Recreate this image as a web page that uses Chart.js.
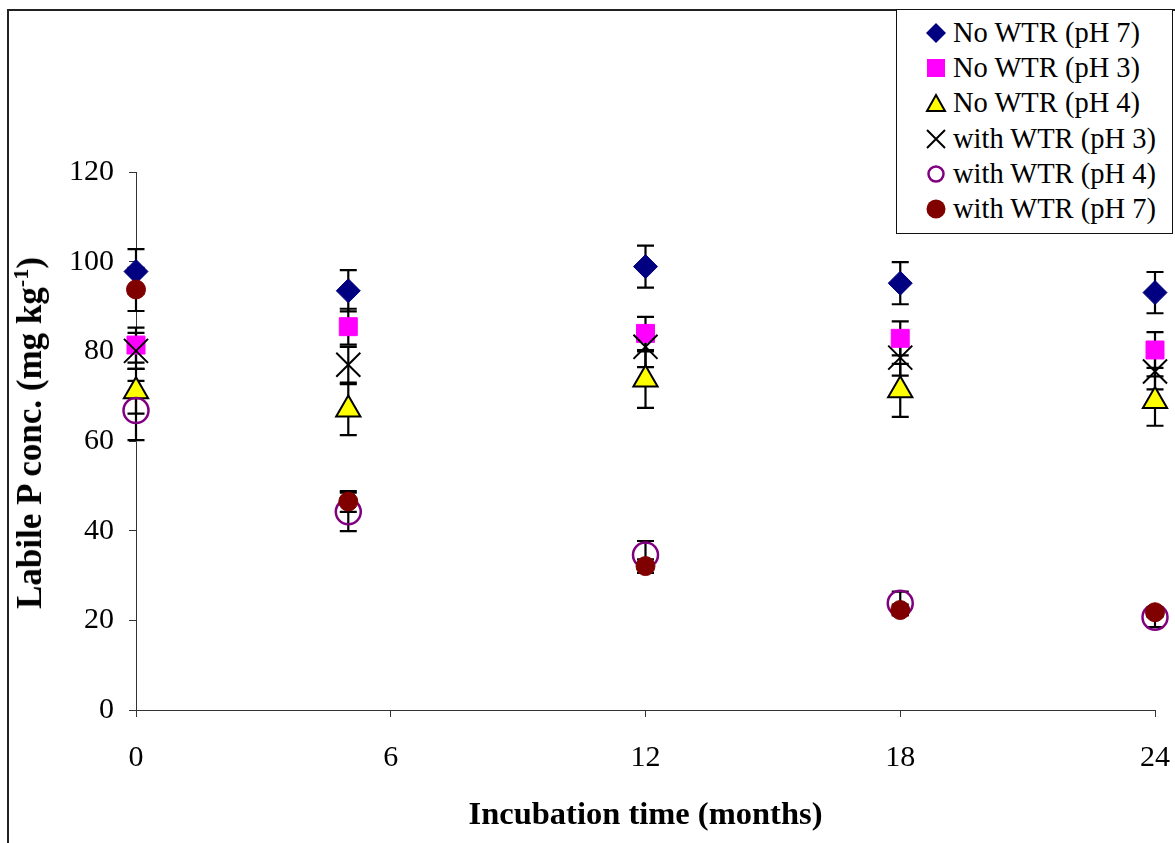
<!DOCTYPE html>
<html lang="en">
<head>
  <meta charset="UTF-8">
  <title>Labile P conc.</title>
  <script src="https://cdn.jsdelivr.net/npm/chart.js@4.4.7/dist/chart.umd.min.js"></script>
  <style>
    * { margin: 0; padding: 0; box-sizing: border-box; }
    body {
      width: 1175px; height: 843px; overflow: hidden;
      background: #fff;
      font-family: 'Liberation Serif', 'Times New Roman', serif;
      position: relative;
    }
    .frame {
      position: absolute; left: 7px; top: 9px; width: 1200px; height: 900px;
      border-left: 2px solid #222; border-top: 2px solid #222;
    }
    canvas { position: absolute; left: 0; top: 0; }
    .ytitle {
      position: absolute; left: 30px; top: 433px;
      transform: translate(-50%, -50%) rotate(-90deg);
      font-weight: bold; font-size: 35px; white-space: nowrap; color: #000;
    }
    .ytitle sup { font-size: 22px; vertical-align: 13px; line-height: 0; }
    .legend {
      position: absolute; left: 896px; top: 9px; width: 277px; height: 225px;
      border: 1.5px solid #111; background: #fff; padding-top: 5px;
    }
    .legend-item {
      display: flex; align-items: center; height: 35.3px;
      font-size: 28.5px; color: #000; white-space: nowrap;
    }
    .legend-item svg { margin-left: 28px; margin-right: 6px; flex-shrink: 0; }
  </style>
</head>
<body>
  <div class="frame"></div>
  <canvas id="chart" width="1175" height="843"></canvas>
  <div class="ytitle">Labile P conc. (mg kg<sup>-1</sup>)</div>
  <div class="legend" id="legend"></div>

  <script>
    // 培養時間 (months)
    const months = [0, 5, 12, 18, 24];

    const noWtrPh7 = [97.8, 93.5, 98.9, 95.2, 93.1];
    const noWtrPh7Err = [5.0, 4.6, 4.7, 4.7, 4.6];
    const noWtrPh3 = [81.4, 85.5, 84.0, 82.9, 80.3];
    const noWtrPh3Err = [3.9, 4.0, 3.7, 3.8, 4.0];
    const noWtrPh4 = [71.1, 67.0, 73.7, 71.3, 68.9];
    const noWtrPh4Err = [5.0, 5.7, 6.3, 5.9, 5.5];
    const withWtrPh3 = [80.1, 77.0, 81.0, 78.6, 75.5];
    const withWtrPh3Err = [4.0, 4.0, 4.5, 4.0, 4.0];
    const withWtrPh4 = [66.8, 44.2, 34.6, 23.8, 20.7];
    const withWtrPh4Err = [6.6, 4.3, 3.1, 2.6, 2.2];
    const withWtrPh7 = [93.8, 46.5, 32.1, 22.3, 21.8];
    const withWtrPh7Err = [4.8, 2.3, 1.5, 1.2, 1.0];

    const xTicks = [0, 6, 12, 18, 24];
    const yTicks = [0, 20, 40, 60, 80, 100, 120];

    const series = [
      { label: 'No WTR (pH 7)', values: noWtrPh7, err: noWtrPh7Err, style: 'rectRot', radius: 12, bg: '#000080', border: '#000080', bw: 1 },
      { label: 'No WTR (pH 3)', values: noWtrPh3, err: noWtrPh3Err, style: 'rect', radius: 12.7, bg: '#FF00FF', border: '#FF00FF', bw: 1 },
      { label: 'No WTR (pH 4)', values: noWtrPh4, err: noWtrPh4Err, style: 'triangle', radius: 14, bg: '#FFFF00', border: '#000000', bw: 2 },
      { label: 'with WTR (pH 3)', values: withWtrPh3, err: withWtrPh3Err, style: 'crossRot', radius: 17, bg: '#000000', border: '#000000', bw: 2 },
      { label: 'with WTR (pH 4)', values: withWtrPh4, err: withWtrPh4Err, style: 'circle', radius: 12.5, bg: 'rgba(0,0,0,0)', border: '#800080', bw: 2.5 },
      { label: 'with WTR (pH 7)', values: withWtrPh7, err: withWtrPh7Err, style: 'circle', radius: 9.5, bg: '#800000', border: '#800000', bw: 1 },
    ];

    // エラーバー
    const errorBars = {
      id: 'errorBars',
      beforeDatasetsDraw(chart) {
        const { ctx, scales: { x, y } } = chart;
        ctx.save();
        ctx.strokeStyle = '#000';
        ctx.lineWidth = 2.2;
        series.forEach(s => {
          s.values.forEach((v, i) => {
            const px = x.getPixelForValue(months[i]);
            const top = y.getPixelForValue(v + s.err[i]);
            const bot = y.getPixelForValue(v - s.err[i]);
            ctx.beginPath();
            ctx.moveTo(px, top); ctx.lineTo(px, bot);
            ctx.moveTo(px - 8.5, top); ctx.lineTo(px + 8.5, top);
            ctx.moveTo(px - 8.5, bot); ctx.lineTo(px + 8.5, bot);
            ctx.stroke();
          });
        });
        ctx.restore();
      }
    };

    const font = "'Liberation Serif', 'Times New Roman', serif";

    new Chart(document.getElementById('chart'), {
      type: 'scatter',
      data: {
        datasets: series.map((s, i) => ({
          label: s.label,
          data: s.values.map((v, j) => ({ x: months[j], y: v })),
          pointStyle: s.style,
          pointRadius: s.radius,
          pointBackgroundColor: s.bg,
          pointBorderColor: s.border,
          pointBorderWidth: s.bw,
          clip: false,
          order: series.length - i,
        }))
      },
      options: {
        responsive: false,
        animation: false,
        events: [],
        layout: { padding: { left: 0, top: 172, right: 20, bottom: 0 } },
        plugins: { legend: { display: false }, tooltip: { enabled: false } },
        scales: {
          x: {
            type: 'linear', min: 0, max: 24,
            afterBuildTicks: s => { s.ticks = xTicks.map(v => ({ value: v })); },
            afterFit: s => { s.height = 133; s.paddingLeft = 0; s.paddingRight = 0; },
            ticks: { color: '#000', font: { family: font, size: 30 }, padding: 23 },
            grid: { drawOnChartArea: false, tickLength: 7, color: '#333' },
            border: { color: '#333', width: 1 },
            title: {
              display: true, text: 'Incubation time (months)', color: '#000',
              font: { family: font, size: 32.5, weight: 'bold' },
              padding: { top: 0, bottom: 8 }
            }
          },
          y: {
            type: 'linear', min: 0, max: 120,
            afterBuildTicks: s => { s.ticks = yTicks.map(v => ({ value: v })); },
            afterFit: s => { s.width = 136; s.paddingTop = 0; s.paddingBottom = 0; },
            ticks: { color: '#000', font: { family: font, size: 30 }, padding: 15 },
            grid: { drawOnChartArea: false, tickLength: 7, color: '#333' },
            border: { color: '#333', width: 1 }
          }
        }
      },
      plugins: [errorBars]
    });

    // カスタムレジェンド
    const markerSvg = {
      rectRot: '<polygon points="11,1 21,11 11,21 1,11" fill="#000080"/>',
      rect: '<rect x="2" y="2" width="18" height="18" fill="#FF00FF"/>',
      triangle: '<polygon points="11,3 20,19 2,19" fill="#FFFF00" stroke="#000" stroke-width="2"/>',
      crossRot: '<path d="M2,2 L20,20 M20,2 L2,20" stroke="#000" stroke-width="2"/>',
      circleOpen: '<circle cx="11" cy="11" r="7.5" fill="none" stroke="#800080" stroke-width="2.5"/>',
      circleFill: '<circle cx="11" cy="11" r="9.5" fill="#800000"/>'
    };
    const legendEl = document.getElementById('legend');
    series.forEach((s, i) => {
      let key = s.style;
      if (key === 'circle') key = i === 4 ? 'circleOpen' : 'circleFill';
      legendEl.innerHTML += '<div class="legend-item">' +
        '<svg width="22" height="22" viewBox="0 0 22 22">' + markerSvg[key] + '</svg>' +
        '<span>' + s.label + '</span></div>';
    });
  </script>
</body>
</html>
